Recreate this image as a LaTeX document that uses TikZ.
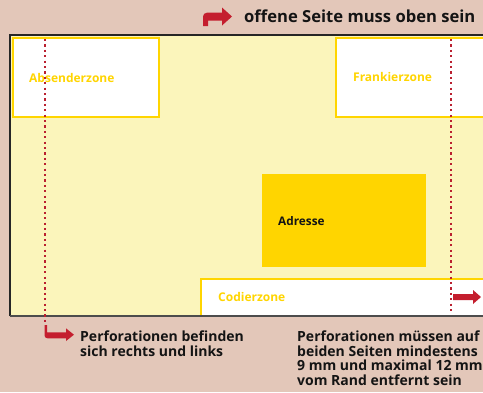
\documentclass[tikz,border=0pt]{standalone}
\usepackage{fontspec}
\setmainfont{Open Sans}
\definecolor{bgc}{RGB}{227,199,185}
\definecolor{envc}{RGB}{251,245,187}
\definecolor{yel}{RGB}{255,213,0}
\definecolor{redc}{RGB}{196,30,46}
\definecolor{dotc}{RGB}{186,32,48}
\definecolor{txt}{RGB}{20,20,20}
\tikzset{
  zonebox/.style={fill=white,draw=yel,line width=2pt},
  zonelabel/.style={anchor=base west,inner sep=0pt,text=yel,font=\bfseries\fontsize{12}{13}\selectfont},
  bodytext/.style={anchor=base west,inner sep=0pt,text=txt,font=\bfseries\fontsize{14}{14.6}\selectfont},
  perfline/.style={draw=dotc,line width=2.2pt,dash pattern=on 2.1pt off 3.3pt},
  redarrow/.style={fill=redc}
}
\begin{document}
\begin{tikzpicture}[x=1pt,y=-1pt]
\useasboundingbox (0,0) rectangle (483,392);
\clip (0,0) rectangle (483,392);
\fill[bgc] (0,0) rectangle (483,392);
% envelope
\fill[envc] (10,35) rectangle (495,316);
% zones
\draw[zonebox] (12.5,37.5) rectangle (158.5,116.5);
\draw[zonebox] (336,37.5) rectangle (495,116.5);
\draw[zonebox] (201,279) rectangle (495,316);
\fill[yel] (262,174) rectangle (426,267);
\node[zonelabel] (abs) at (29,82) {Absenderzone};
\node[zonelabel] (frank) at (353,81) {Frankierzone};
\node[zonelabel] (cod) at (218,301.5) {Codierzone};
\node[bodytext,font=\bfseries\fontsize{11.8}{13}\selectfont] (adr) at (278,225) {Adresse};
% envelope border
\draw[line width=1.5pt,draw=black!85] (10,316) -- (10,35) -- (495,35);
\draw[line width=1.2pt,draw=black!70] (10,316) -- (495,316);
% perforation lines
\coordinate (pl1) at (45,39);
\coordinate (pl2) at (45,323);
\coordinate (pr1) at (451,39);
\coordinate (pr2) at (451,314);
\draw[perfline] (pl1) -- (pl2);
\draw[perfline] (pr1) -- (pr2);
% arrows
\fill[redarrow] (203,26) -- (203,16.5) to[out=90,in=180] (207,12.7) -- (222,12.7) -- (222,7.5) -- (232,16.5) -- (222,25.5) -- (222,20.7) -- (208,20.7) -- (208,26) -- cycle;
\fill[redarrow] (44.5,325) -- (44.5,335.5) to[out=-90,in=180] (47.5,338.3) -- (66,338.3) -- (66,341) -- (74,334.7) -- (66,328.3) -- (66,332.3) -- (47,332.3) -- (47,325) -- cycle;
\fill[redarrow] (453,294) -- (473,294) -- (473,290) -- (481,297) -- (473,304) -- (473,300) -- (453,300) -- cycle;
% texts
\node[bodytext,font=\bfseries\fontsize{16.6}{18}\selectfont] (top) at (244,22) {offene Seite muss oben sein};
\node[bodytext] (l1) at (80,341.7) {Perforationen befinden};
\node[bodytext] (l2) at (80,356.2) {sich rechts und links};
\node[bodytext] (r1) at (297,341.7) {Perforationen müssen auf};
\node[bodytext] (r2) at (297,356.3) {beiden Seiten mindestens};
\node[bodytext] (r3) at (297,370.9) {9 mm und maximal 12 mm};
\node[bodytext] (r4) at (297,385.5) {vom Rand entfernt sein};
\end{tikzpicture}
\end{document}
